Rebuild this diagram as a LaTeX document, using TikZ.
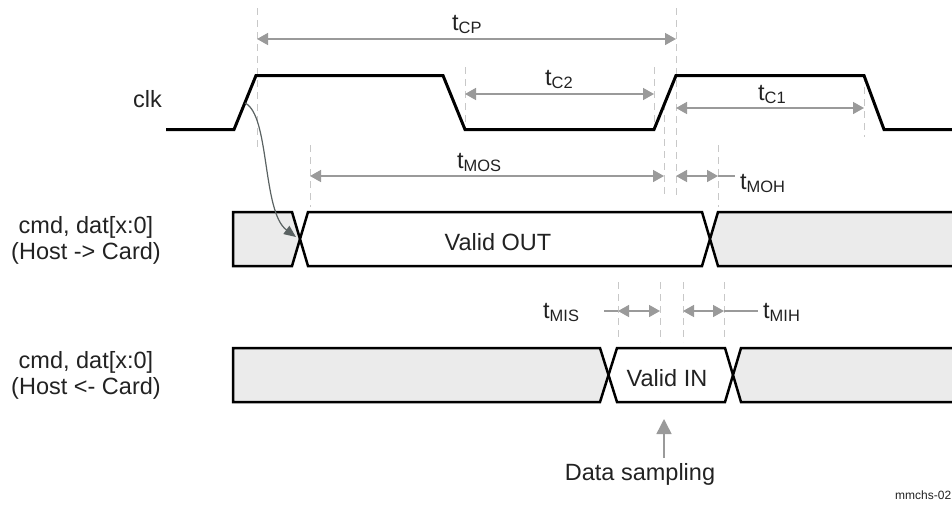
\documentclass[tikz,border=0pt]{standalone}
\usepackage{fontspec}
\setmainfont{Liberation Sans}
\usetikzlibrary{arrows.meta}
\definecolor{sigfill}{HTML}{EBEBEB}
\definecolor{dimgray}{HTML}{9A9A9A}
\definecolor{guide}{HTML}{C8C8C8}
\definecolor{txt}{HTML}{222222}
\definecolor{curvecol}{HTML}{5A6262}
\newcommand{\tsub}[1]{t\textsubscript{#1}}
\begin{document}
\begin{tikzpicture}[x=1pt,y=-1pt,
  lbl/.style={font=\fontsize{23.5}{27}\selectfont, text=txt, inner sep=0pt},
  tlbl/.style={lbl, anchor=base west},
  guideline/.style={draw=guide, line width=1pt, dash pattern=on 7pt off 5pt},
  dimarrow/.style={draw=dimgray, line width=1.5pt, {Triangle[length=11pt,width=12pt,fill=dimgray]}-{Triangle[length=11pt,width=12pt,fill=dimgray]}},
  dimline/.style={draw=dimgray, line width=1.5pt},
  clkline/.style={draw=black, line width=3pt, line join=miter},
  sig/.style={draw=black, line width=2.5pt, line join=miter},
]
\useasboundingbox (0,0) rectangle (952,504);

% guide lines
\draw[guideline] (257,8) -- (257,150);
\draw[guideline] (465,67) -- (465,130);
\draw[guideline] (310,145) -- (310,207);
\draw[guideline] (654,67) -- (654,130);
\draw[guideline] (664,103) -- (664,195);
\draw[guideline] (676,8) -- (676,196);
\draw[guideline] (718,145) -- (718,207);
\draw[guideline] (864,75) -- (864,137);
\draw[guideline] (618,282) -- (618,342);
\draw[guideline] (660,282) -- (660,342);
\draw[guideline] (683,282) -- (683,342);
\draw[guideline] (724,282) -- (724,342);

% clock
\draw[clkline] (166,129.5) -- (234,129.5) -- (256,75.5) -- (443,75.5) -- (465,129.5) -- (654,129.5) -- (676,75.5) -- (864,75.5) -- (884,129.5) -- (960,129.5);

% Host -> Card
\draw[sig, fill=sigfill] (233,212) -- (292,212) -- (300,239) -- (292,266) -- (233,266) -- cycle;
\draw[sig, fill=white] (300,239) -- (308,212) -- (702,212) -- (710,239) -- (702,266) -- (308,266) -- cycle;
\draw[sig, fill=sigfill] (962,212) -- (718,212) -- (710,239) -- (718,266) -- (962,266);

% Host <- Card
\draw[sig, fill=sigfill] (233,348) -- (600,348) -- (608.5,375) -- (600,402) -- (233,402) -- cycle;
\draw[sig, fill=white] (608.5,375) -- (617,348) -- (725,348) -- (733,375) -- (725,402) -- (617,402) -- cycle;
\draw[sig, fill=sigfill] (962,348) -- (741,348) -- (733,375) -- (741,402) -- (962,402);

% coordinates for dimension arrows
\coordinate (cpL) at (257,39);  \coordinate (cpR) at (676,39);
\coordinate (c2L) at (465,94);  \coordinate (c2R) at (654,94);
\coordinate (c1L) at (676,108); \coordinate (c1R) at (864,108);
\coordinate (mosL) at (310,176); \coordinate (mosR) at (664,176);
\coordinate (mohL) at (676,176); \coordinate (mohR) at (718,176); \coordinate (mohE) at (735,176);
\coordinate (misS) at (604,311); \coordinate (misL) at (618,311); \coordinate (misR) at (660,311);
\coordinate (mihL) at (683,311); \coordinate (mihR) at (724,311); \coordinate (mihE) at (758,311);

\draw[dimarrow] (cpL) -- (cpR);
\draw[dimarrow] (c2L) -- (c2R);
\draw[dimarrow] (c1L) -- (c1R);
\draw[dimarrow] (mosL) -- (mosR);
\draw[dimarrow] (mohL) -- (mohR);
\draw[dimline] (mohR) -- (mohE);
\draw[dimline] (misS) -- (misL);
\draw[dimarrow] (misL) -- (misR);
\draw[dimarrow] (mihL) -- (mihR);
\draw[dimline] (mihR) -- (mihE);

% timing labels
\node[tlbl] (tcp) at (452,30) {\tsub{CP}};
\node[tlbl] (tc2) at (545,85) {\tsub{C2}};
\node[tlbl] (tc1) at (758,100) {\tsub{C1}};
\node[tlbl] (tmos) at (457,168) {\tsub{MOS}};
\node[tlbl] (tmoh) at (740,189) {\tsub{MOH}};
\node[tlbl] (tmis) at (543,318) {\tsub{MIS}};
\node[tlbl] (tmih) at (763,318) {\tsub{MIH}};

% signal labels
\node[lbl, anchor=base] (clk) at (147.5,107) {clk};
\node[lbl, anchor=base] (hc1) at (86,233) {cmd, dat[x:0]};
\node[lbl, anchor=base] (hc2) at (86,259) {(Host -> Card)};
\node[lbl, anchor=base] (ch1) at (86,368) {cmd, dat[x:0]};
\node[lbl, anchor=base] (ch2) at (86,394) {(Host <- Card)};
\node[lbl, anchor=base] (vout) at (498,250) {Valid OUT};
\node[lbl, anchor=base] (vin) at (667,386) {Valid IN};

% causal curve
\coordinate (rise) at (245,103);
\coordinate (cross) at (296,237);
\draw[curvecol, line width=1.2pt, -{Triangle[length=12pt,width=10pt,fill=curvecol]}] (rise) .. controls (270,115) and (262,212) .. (cross);

% data sampling
\node[lbl, anchor=base] (ds) at (640,480) {Data sampling};
\coordinate (dsTip) at (664,419);
\coordinate (dsTail) at (664,458);
\draw[dimgray, line width=1.5pt, -{Triangle[length=15pt,width=15pt,fill=dimgray]}] (dsTail) -- (dsTip);

\node[font=\fontsize{12}{14}\selectfont, text=txt, inner sep=0pt, anchor=base west] (tag) at (895,499) {mmchs-02};
\end{tikzpicture}
\end{document}
